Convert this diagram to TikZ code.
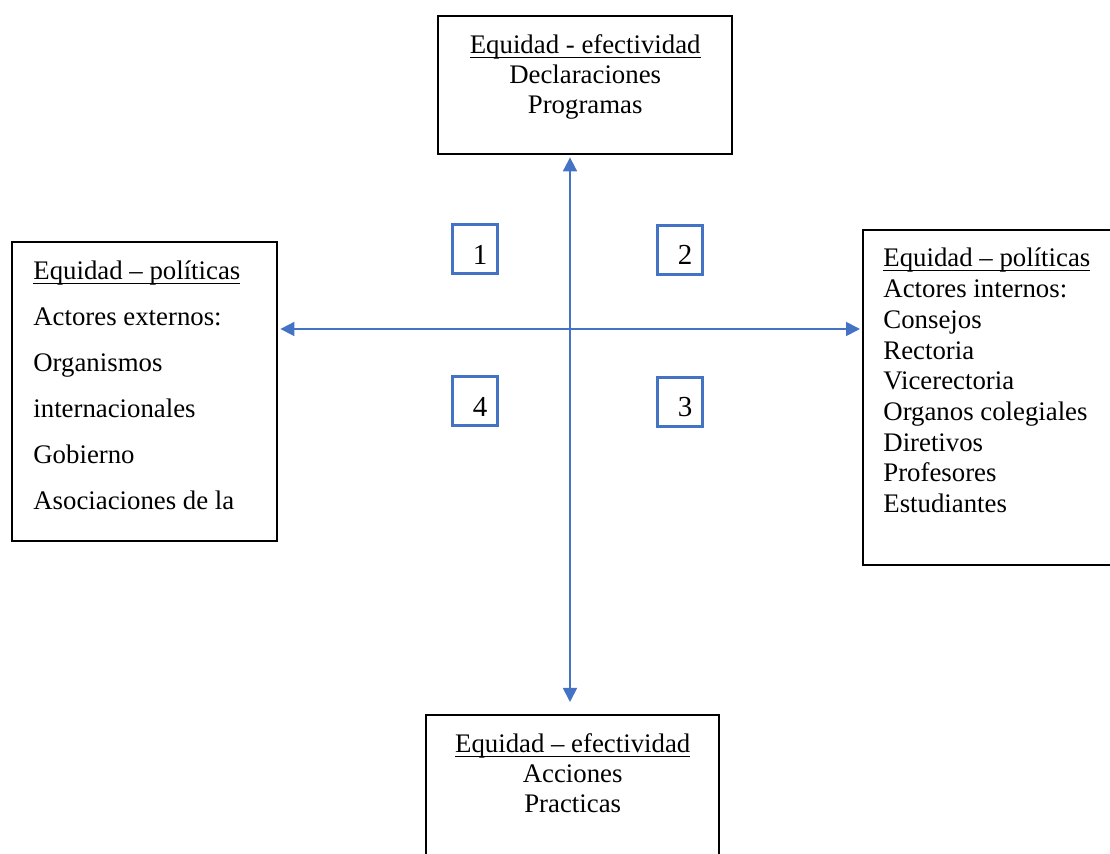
\documentclass[tikz,border=0pt]{standalone}
\usepackage{fontspec}
\setmainfont{Liberation Serif}
\usetikzlibrary{positioning, arrows.meta}
\usepackage{color}
\definecolor{axis_blue}{RGB}{68,114,196}
\newcommand{\headline}[1]{\underline{\smash{#1}\vphantom{d}}}

\begin{document}
\begin{tikzpicture}[x=0.5pt, y=-0.5pt,
	panel/.style={draw, line width=1.2pt, rectangle, inner sep=0pt, anchor=north west},
	paneltext/.style={inner sep=0pt, font=\fontsize{13.4}{15}\selectfont},
	quadrant/.style={draw=axis_blue, line width=1.5pt, rectangle, inner sep=0pt, minimum width=22.5pt, minimum height=24.5pt, text height=15pt, text depth=0pt, font=\fontsize{14.5}{16}\selectfont},
	axis/.style={draw=axis_blue, line width=0.9pt, {Triangle[width=7pt,length=7pt]}-{Triangle[width=7pt,length=7pt]}}]
			\useasboundingbox (0,0) rectangle (1110,854);
			\clip (0,0) rectangle (1110,854);

			% --- Begin Top Node ---
			\node [panel, minimum width=147pt, minimum height=69pt] (topBox) at (437,15) {};
			\node [paneltext, align=center, anchor=north, below=10pt of topBox.north] (topText) {
				\headline{Equidad - efectividad} \\
				Declaraciones \\
				Programas
			};
			% --- End Top Node ---

			% --- Begin Left Node ---
			\node [panel, minimum width=132.5pt, minimum height=149.5pt] (lftBox) at (11,241) {};
			\node [paneltext, align=left, anchor=north west, font=\fontsize{13.4}{23}\selectfont] (lftText) at ([xshift=11pt, yshift=-10pt]lftBox.north west) {
				\headline{Equidad – políticas} \\
				Actores externos: \\
				Organismos \\
				internacionales \\
				Gobierno \\
				Asociaciones de la
			};
			% --- End Left Node ---

			% --- Begin Right Node ---
			\node [panel, minimum width=129pt, minimum height=167.5pt] (rgtBox) at (862,229) {};
			\node [paneltext, align=left, anchor=north west, font=\fontsize{13.4}{15.35}\selectfont] (rgtText) at ([xshift=10.5pt, yshift=-9.5pt]rgtBox.north west) {
				\headline{Equidad – políticas} \\
				Actores internos: \\
				Consejos \\
				Rectoria \\
				Vicerectoria \\
				Organos colegiales \\
				Diretivos \\
				Profesores \\
				Estudiantes
			};
			% --- End Right Node ---

			% --- Begin Bottom Node ---
			\node [panel, minimum width=146.5pt, minimum height=78pt] (botBox) at (425,714) {};
			\node [paneltext, align=center, anchor=north, below=10pt of botBox.north] (botText) {
				\headline{Equidad – efectividad} \\
				Acciones \\
				Practicas
			};
			% --- End Bottom Node ---

			% Axes crossing between the four nodes.
			\coordinate (hub) at (570,329);
			\draw [axis, shorten <=1pt, shorten >=1pt] (hub -| lftBox.east) -- (hub -| rgtBox.west);
			\draw [axis, shorten <=1pt, shorten >=6pt] (hub |- topBox.south) -- (hub |- botBox.north);

			% Numbered quadrants
			\node [quadrant] (q1) at (474.5,249.5) {\hspace*{5.5pt}1};
			\node [quadrant] (q2) at (679.5,250) {\hspace*{5.5pt}2};
			\node [quadrant] (q3) at (679.5,402) {\hspace*{5.5pt}3};
			\node [quadrant] (q4) at (474.5,401.5) {\hspace*{5.5pt}4};
		\end{tikzpicture}
\end{document}
